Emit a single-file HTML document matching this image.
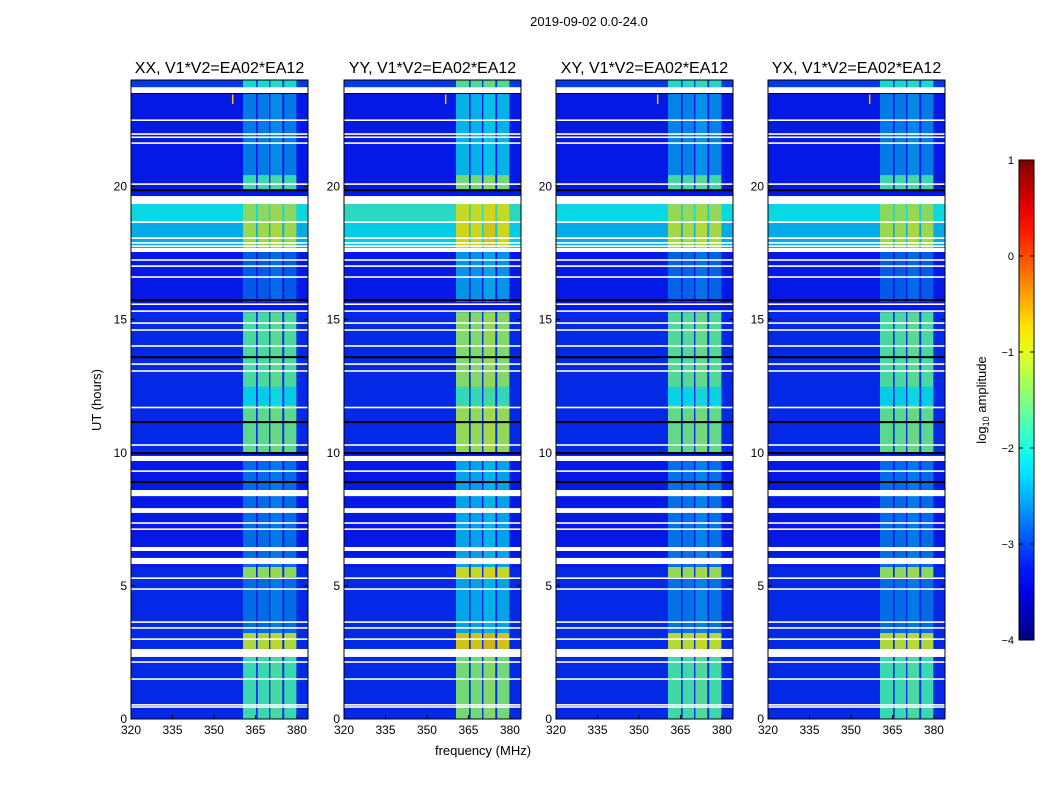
<!DOCTYPE html>
<html><head><meta charset="utf-8"><style>
body{margin:0;background:#fff;}
svg{display:block;font-family:"Liberation Sans",sans-serif;}
</style></head><body>
<svg id="fig" width="1050" height="800" xmlns="http://www.w3.org/2000/svg">
<text x="589" y="26" font-size="13" text-anchor="middle">2019-09-02 0.0-24.0</text>
<text x="483" y="755" font-size="13" text-anchor="middle">frequency (MHz)</text>
<text x="101" y="400" font-size="13" text-anchor="middle" transform="rotate(-90 101 400)">UT (hours)</text>
<text x="986" y="400" font-size="13" text-anchor="middle" transform="rotate(-90 986 400)">log<tspan font-size="9" dy="3">10</tspan><tspan dy="-3"> amplitude</tspan></text>
</svg>
<script>
const panelTitles=["XX, V1*V2=EA02*EA12","YY, V1*V2=EA02*EA12","XY, V1*V2=EA02*EA12","YX, V1*V2=EA02*EA12"];
const panelBandOffset=[0,0.35,0.05,0];
const segStart=[23.73,20.43,19.86,18.66,17.69,15.66,12.47,11.79,9.99,5.71,5.33,3.23,2.63,0];
const segEnd=[24,23.51,20.43,19.34,18.66,17.54,15.28,12.47,11.79,9.69,5.71,5.29,3.23,2.33];
const segBg=[-3.1,-3.3,-3.3,-2.1,-2.4,-3.3,-3.2,-3.2,-3.2,-3.3,-3.2,-3.2,-3.2,-3.2];
const segBand=[-2.0,-2.7,-1.8,-1.3,-1.2,-2.9,-1.7,-2.2,-1.6,-2.8,-1.3,-2.8,-1.1,-1.8];
const bandLo=[360.5,365.8,370.4,375.4];
const bandHi=[365.2,369.9,374.7,379.8];
const whiteLines=[22.49,21.97,21.85,21.63,20.09,18.66,18.06,17.88,17.76,17.24,17.01,16.60,15.58,15.32,14.87,14.61,14.01,13.33,13.07,11.70,10.29,9.31,7.36,7.13,5.29,4.88,3.64,3.42,3.00,2.14,1.50,0.53,0.45];
const whiteStart=[23.51,19.34,17.54,9.69,8.37,7.74,6.31,5.82,2.33];
const whiteEnd=[23.73,19.64,17.69,9.88,8.60,7.92,6.46,6.05,2.63];
const blackLines=[23.51,19.86,15.73,13.59,11.15,9.99,8.90];
const xTicks=[320,335,350,365,380];
const yTicks=[0,5,10,15,20];
const cbTicks=[1,0,-1,-2,-3,-4];
const cbTickLabels=["1","0","\u22121","\u22122","\u22123","\u22124"];
const panelLeft=[131,344,556,768];
const W=177,TOP=80,BOT=719;
const NS="http://www.w3.org/2000/svg";
const svg=document.getElementById('fig');
function jetRGB(v){
  let t=(v+4)/5; t=Math.max(0,Math.min(1,t));
  const r=Math.max(0,Math.min(1,1.5-Math.abs(4*t-3)));
  const g=Math.max(0,Math.min(1,1.5-Math.abs(4*t-2)));
  const b=Math.max(0,Math.min(1,1.5-Math.abs(4*t-1)));
  return [r*255,g*255,b*255];
}
function jet(v){const c=jetRGB(v);return `rgb(${Math.round(c[0])},${Math.round(c[1])},${Math.round(c[2])})`;}
function jetMix(v){const c=jetRGB(v);const m=[20,60,130];return `rgb(${Math.round(c[0]*0.8+m[0]*0.2)},${Math.round(c[1]*0.8+m[1]*0.2)},${Math.round(c[2]*0.8+m[2]*0.2)})`;}
function el(tag,attrs,parent){const e=document.createElementNS(NS,tag);for(const k in attrs)e.setAttribute(k,attrs[k]);(parent||svg).appendChild(e);return e;}
const yScale=h=>BOT-(h/24)*(BOT-TOP);
panelLeft.forEach((L,p)=>{
  const xScale=f=>L+(f-320)/64*W;
  const g=el('g',{});
  
  
  const bgR=el('rect',{x:L,y:TOP,width:W,height:BOT-TOP,fill:jetMix(-3.3)},g);
  
  
  segStart.forEach((s,i)=>{
    const y0=yScale(segEnd[i]),y1=yScale(s);
    let bg=segBg[i]; if(p===1&&bg>-2.6) bg+=0.2;
    const r=el('rect',{x:L,y:y0,width:W,height:y1-y0,fill:jetMix(bg)},g);
    
    
    bandLo.forEach((lo,j)=>{
      const b=el('rect',{x:xScale(lo),y:y0,width:xScale(bandHi[j])-xScale(lo),height:y1-y0,fill:jetMix(segBand[i]+panelBandOffset[p]+(j===2?0.1:0))},g);
      
      
    });
  });
  blackLines.forEach(h=>{const r=el('rect',{x:L,y:yScale(h)-1,width:W,height:2,fill:'#000'},g);
    });
  whiteLines.forEach(h=>{const r=el('rect',{x:L,y:yScale(h)-0.8,width:W,height:1.6,fill:'#fff'},g);
    });
  whiteStart.forEach((s,i)=>{const r=el('rect',{x:L,y:yScale(whiteEnd[i]),width:W,height:yScale(s)-yScale(whiteEnd[i]),fill:'#fff'},g);
    });
  const sp=el('rect',{x:xScale(356.5),y:yScale(23.45),width:1.5,height:yScale(23.1)-yScale(23.45),fill:jet(-0.6)},g);
  
  const fr=el('rect',{x:L,y:TOP,width:W,height:BOT-TOP,fill:'none',stroke:'#000','stroke-width':1},g);
  
  const t=el('text',{x:L+W/2,y:73,'font-size':16,'text-anchor':'middle'},g);t.textContent=panelTitles[p];
  
  xTicks.forEach(v=>{const x=xScale(v);
    el('line',{x1:x,x2:x,y1:BOT,y2:BOT-4,stroke:'#000'},g);
    const tl=el('text',{x:x,y:BOT+15,'font-size':12,'text-anchor':'middle'},g);tl.textContent=v;
    });
  yTicks.forEach(v=>{const y=yScale(v);
    el('line',{x1:L,x2:L+4,y1:y,y2:y,stroke:'#000'},g);
    el('line',{x1:L+W,x2:L+W-4,y1:y,y2:y,stroke:'#000'},g);
    const tl=el('text',{x:L-4,y:y+4,'font-size':12,'text-anchor':'end'},g);tl.textContent=v;
    });
});
const defs=el('defs',{});
const lg=el('linearGradient',{id:'jetg',x1:0,y1:1,x2:0,y2:0},defs);
for(let i=0;i<=20;i++){const v=-4+5*i/20;el('stop',{offset:(i/20),'stop-color':jet(v)},lg);}
const cbY=v=>640-(v+4)/5*480;
const cb=el('rect',{x:1019,y:160,width:15,height:480,fill:'url(#jetg)',stroke:'#000','stroke-width':1});

cbTicks.forEach((v,i)=>{const y=cbY(v);
  el('line',{x1:1019,x2:1023,y1:y,y2:y,stroke:'#000'});
  el('line',{x1:1034,x2:1030,y1:y,y2:y,stroke:'#000'});
  const t=el('text',{x:1014,y:y+4,'font-size':11,'text-anchor':'end'});t.textContent=cbTickLabels[i];
  });
</script>
</body></html>
